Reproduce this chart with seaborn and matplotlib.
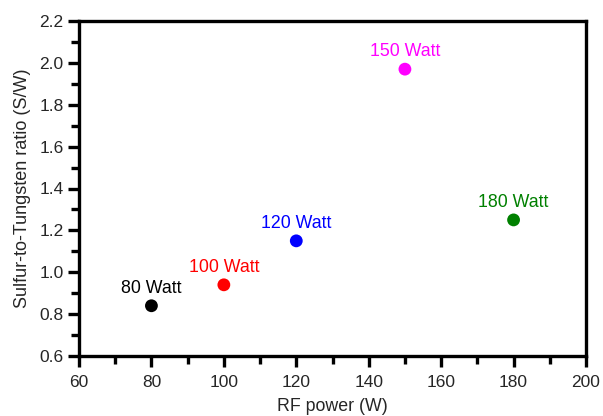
import matplotlib
matplotlib.use("Agg")
import matplotlib.pyplot as plt
import seaborn as sns
import pandas as pd
from matplotlib.ticker import MultipleLocator

power = [80, 100, 120, 150, 180]
ratio = [0.84, 0.94, 1.15, 1.97, 1.25]
labels = ["80 Watt", "100 Watt", "120 Watt", "150 Watt", "180 Watt"]
colors = ["#000000", "#ff0000", "#0000ff", "#ff00ff", "#008000"]

sns.set_theme(style="ticks")
plt.rcParams['font.family'] = ['Liberation Sans', 'DejaVu Sans']

df = pd.DataFrame({"power": power, "ratio": ratio, "label": labels})

fig = plt.figure(figsize=(6.03, 4.16), dpi=100)
ax = fig.add_axes([79/603, 1 - 356/416, (586-79)/603, (356-21)/416])

sns.scatterplot(data=df, x="power", y="ratio", hue="label", palette=colors,
                s=85, edgecolor="none", legend=False, ax=ax, zorder=3)

for x, y, t, c in zip(power, ratio, labels, colors):
    ax.annotate(t, (x, y), xytext=(0, 6.5), textcoords="offset points",
                ha="center", va="bottom", color=c, fontsize=12.8)

ax.set_xlim(60, 200)
ax.set_ylim(0.6, 2.2)
ax.xaxis.set_major_locator(MultipleLocator(20))
ax.xaxis.set_minor_locator(MultipleLocator(10))
ax.yaxis.set_major_locator(MultipleLocator(0.2))
ax.yaxis.set_minor_locator(MultipleLocator(0.1))
ax.yaxis.set_major_formatter(matplotlib.ticker.FormatStrFormatter('%.1f'))

for sp in ax.spines.values():
    sp.set_linewidth(2.4)
    sp.set_color("black")
ax.tick_params(which="major", direction="out", length=8, width=2.4, labelsize=12.5, color="black")
ax.tick_params(which="minor", direction="out", length=5.5, width=2.4, color="black")
ax.tick_params(axis="x", which="major", pad=5.5)
ax.tick_params(axis="y", which="major", pad=3)

ax.set_xlabel("RF power (W)", fontsize=12.8, labelpad=6)
ax.set_ylabel("Sulfur-to-Tungsten ratio (S/W)", fontsize=13, labelpad=6)

fig.savefig("out.png", dpi=100)
